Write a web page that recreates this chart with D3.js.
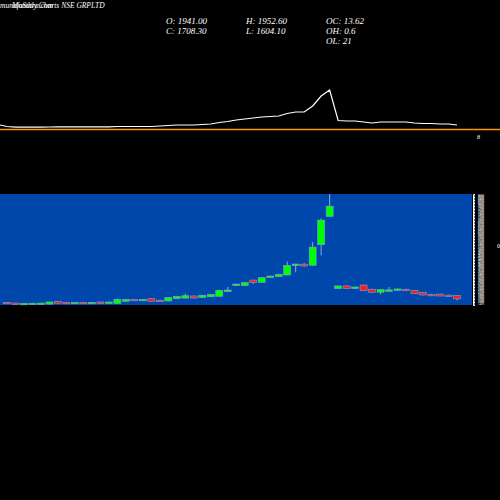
<!DOCTYPE html>
<html><head><meta charset="utf-8">
<script src="https://cdn.jsdelivr.net/npm/d3@7"></script>
<style>body{margin:0;background:#000}svg{display:block}</style>
</head><body>
<script>
const opens  = [1480,1430,1350,1360,1380,1360,1550,1480,1400,1480,1420,1500,1420,1400,1550,1680,1580,1720,1620,1570,1720,1760,1900,1800,1850,1880,2190,2590,2590,2960,2810,3120,3190,3300,3920,4020,3950,5320,7210,2390,2570,2400,2630,2350,2150,2260,2290,2350,2280,2150,2010,2030,1960,1941];
const closes = [1390,1350,1410,1420,1430,1500,1420,1390,1480,1400,1480,1410,1500,1680,1680,1580,1680,1550,1550,1810,1880,1920,1760,1950,2000,2280,2300,2700,2790,2790,3120,3230,3340,3940,4030,3900,5160,6960,7890,2570,2390,2500,2250,2150,2330,2310,2370,2270,2050,1970,1930,1900,1890,1708];
const highs  = [1500,1450,1420,1430,1440,1520,1570,1500,1500,1500,1500,1520,1520,1720,1700,1700,1700,1740,1640,1830,1900,2050,1920,1970,2020,2320,2500,2720,2830,2990,3150,3260,3380,4200,4050,4100,5500,7070,8700,2600,2600,2520,2660,2380,2350,2500,2400,2380,2300,2170,2040,2050,1980,1952];
const lows   = [1370,1330,1330,1340,1360,1340,1400,1370,1380,1380,1400,1390,1400,1380,1530,1560,1560,1530,1530,1550,1700,1740,1740,1780,1830,1860,2160,2570,2570,2700,2790,3100,3170,3280,3480,3850,3930,4610,7200,2370,2370,2380,2230,2130,2010,2240,2270,2250,2030,1950,1910,1880,1870,1604];
const lineVals = [3.5,2.8,2.8,2.8,2.8,3,3.2,3.2,3.2,3.2,3.2,3.2,3.2,3.5,3.5,3.5,3.5,3.5,4,4.5,5,5,5,5.5,6,7.5,8.5,10,11,12,13,13.5,14,16.5,18,18,24,34,40,9.5,9,9,8,7,8,8,8,8,7,6.5,6.5,6,6,5];
const title = "Monthly Charts NSE GRPLTD";
const brand = "munafaSutra.com";
const info = [["O: 1941.00","C: 1708.30"],["H: 1952.60","L: 1604.10"],["OC: 13.62","OH: 0.6","OL: 21"]];

const svg = d3.select("body").append("svg").attr("width",500).attr("height",500);
svg.append("rect").attr("width",500).attr("height",500).attr("fill","#000");
const n = opens.length;
const x = d3.scaleLinear().domain([0,n-1]).range([7,457]);

const ly = d3.scaleLinear().domain([0,45]).range([130,85]);
svg.append("line").attr("x1",0).attr("x2",500).attr("y1",129.5).attr("y2",129.5).attr("stroke","#ff9900").attr("stroke-width",1.3);
const pts = [[0,125]].concat(lineVals.map((v,i)=>[x(i),ly(v)]));
svg.append("path").attr("d",d3.line()(pts)).attr("fill","none").attr("stroke","#fff").attr("stroke-width",1.2);
svg.append("text").attr("x",477).attr("y",139).attr("fill","#fff").attr("font-size",6).attr("font-family","Liberation Serif").attr("font-style","italic").text("8");

const f = "Liberation Serif";
svg.append("text").attr("x",0).attr("y",8).attr("fill","#fff").attr("font-size",7.5).attr("font-family",f).attr("font-style","italic").text(brand);
svg.append("text").attr("x",12).attr("y",8).attr("fill","#fff").attr("font-size",7.5).attr("font-family",f).attr("font-style","italic").text(title);
const cx=[166,246,326];
info.forEach((col,i)=>col.forEach((t,j)=>svg.append("text").attr("x",cx[i]).attr("y",24+j*10).attr("fill","#fff").attr("font-size",9).attr("font-family",f).attr("font-style","italic").text(t)));

svg.append("rect").attr("x",0).attr("y",194).attr("width",472).attr("height",111).attr("fill","#0047ab");
const y = d3.scaleLinear().domain([1300,8700]).range([305,194]);
const g = svg.append("g");
d3.range(n).forEach(i=>{
  const up = closes[i]>=opens[i];
  g.append("line").attr("x1",x(i)).attr("x2",x(i)).attr("y1",y(highs[i])).attr("y2",y(lows[i])).attr("stroke","#8fa8d8").attr("stroke-width",1);
  const top=y(Math.max(opens[i],closes[i])), bot=y(Math.min(opens[i],closes[i]));
  g.append("rect").attr("x",x(i)-3.5).attr("width",7).attr("y",top).attr("height",Math.max(1.5,bot-top))
   .attr("fill",up?"#00ff00":"#ff1a1a").attr("stroke","#7f9fd0").attr("stroke-width",0.6);
});
const ax = d3.axisRight(y).tickValues(d3.range(1400,8700,100)).tickSize(2).tickFormat(d3.format("d"));
const ag = svg.append("g").attr("transform","translate(473,0)").call(ax);
ag.selectAll("text").attr("fill","#fff").attr("font-size",3).attr("font-family",f);
ag.selectAll("line,path").attr("stroke","#fff");
svg.append("text").attr("x",497).attr("y",248).attr("fill","#fff").attr("font-size",6).attr("font-family",f).text("0");
</script>
</body></html>
